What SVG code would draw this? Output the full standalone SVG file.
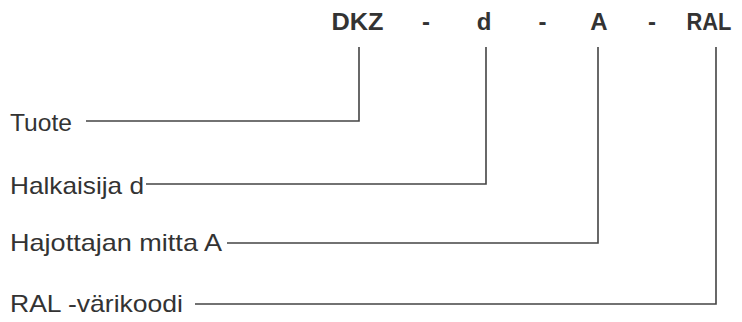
<svg xmlns="http://www.w3.org/2000/svg" width="742" height="322" viewBox="0 0 742 322">
<style>
.top{font-family:"Liberation Sans",Arial,sans-serif;font-size:24px;font-weight:bold;fill:#333;text-anchor:middle}
.lbl{font-family:"Liberation Sans",Arial,sans-serif;font-size:24px;fill:#333}
.ln{fill:none;stroke:#444;stroke-width:1.6}
</style>
<rect width="742" height="322" fill="#fff"/>
<g id="code">
<text class="top" x="357.5" y="30" textLength="52" lengthAdjust="spacingAndGlyphs">DKZ</text>
<text class="top" x="426" y="30">-</text>
<text class="top" x="484" y="30">d</text>
<text class="top" x="542.5" y="30">-</text>
<text class="top" x="599" y="30">A</text>
<text class="top" x="652" y="30">-</text>
<text class="top" x="709" y="30" textLength="45" lengthAdjust="spacingAndGlyphs">RAL</text>
</g>
<g id="tuote"><text class="lbl" x="10" y="131" textLength="62" lengthAdjust="spacingAndGlyphs">Tuote</text></g>
<g id="halkaisija"><text class="lbl" x="10" y="194" textLength="134" lengthAdjust="spacingAndGlyphs">Halkaisija d</text></g>
<g id="hajottajan"><text class="lbl" x="10" y="251" textLength="212" lengthAdjust="spacingAndGlyphs">Hajottajan mitta A</text></g>
<g id="ral"><text class="lbl" x="10" y="312" textLength="173" lengthAdjust="spacingAndGlyphs">RAL -värikoodi</text></g>
<g id="connectors">
<path class="ln" d="M86 121H359V47"/>
<path class="ln" d="M146 184H486V47"/>
<path class="ln" d="M227 243H598V47"/>
<path class="ln" d="M195 304H716V47"/>
</g>
</svg>
